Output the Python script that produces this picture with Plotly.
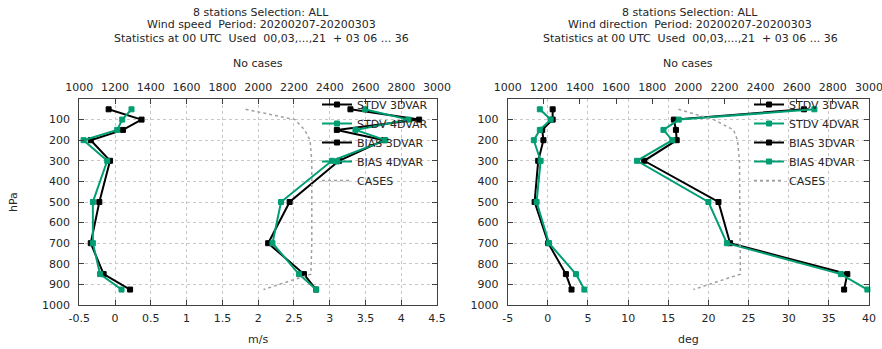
import plotly.graph_objects as go

# ---------------- data ----------------
levels = [50, 100, 150, 200, 300, 500, 700, 850, 925]

stdv3_spd = [3.29, 4.25, 3.10, 3.76, 3.13, 2.44, 2.14, 2.64, 2.81]
stdv4_spd = [3.49, 4.10, 3.36, 3.78, 3.03, 2.32, 2.20, 2.57, 2.81]
bias3_spd = [-0.09, 0.37, 0.11, -0.34, -0.07, -0.22, -0.34, -0.16, 0.21]
bias4_spd = [0.23, 0.10, 0.03, -0.44, -0.11, -0.31, -0.31, -0.21, 0.09]
cases_spd = [1930, 2205, 2260, 2290, 2300, 2300, 2300, 2295, 2030]

stdv3_dir = [31.9, 15.7, 15.95, 16.05, 12.0, 21.25, 22.7, 37.3, 36.9]
stdv4_dir = [33.2, 16.3, 14.4, 15.5, 11.1, 20.0, 22.3, 36.5, 39.8]
bias3_dir = [0.6, 0.6, -0.7, -0.55, -1.2, -1.65, 0.05, 2.25, 2.95]
bias4_dir = [-1.0, 0.35, -1.0, -1.75, -0.9, -1.4, 0.15, 3.5, 4.55]
cases_dir = [1945, 2140, 2250, 2272, 2283, 2285, 2285, 2288, 2028]

speed_ticks = [-0.5, 0, 0.5, 1, 1.5, 2, 2.5, 3, 3.5, 4, 4.5]
speed_ticktext = ["-0.5", "0", "0.5", "1", "1.5", "2", "2.5", "3", "3.5", "4", "4.5"]
dir_ticks = [-5, 0, 5, 10, 15, 20, 25, 30, 35, 40]
dir_ticktext = ["-5", "0", "5", "10", "15", "20", "25", "30", "35", "40"]
case_ticks = [1000, 1200, 1400, 1600, 1800, 2000, 2200, 2400, 2600, 2800, 3000]
level_ticks = [100, 200, 300, 400, 500, 600, 700, 800, 900, 1000]

title_lines_spd = ["8 stations Selection: ALL",
                   "Wind speed\u00a0 Period: 20200207-20200303",
                   "Statistics at 00 UTC\u00a0 Used\u00a0 00,03,...,21\u00a0 + 03 06 ... 36"]
title_lines_dir = ["8 stations Selection: ALL",
                   "Wind direction\u00a0 Period: 20200207-20200303",
                   "Statistics at 00 UTC\u00a0 Used\u00a0 00,03,...,21\u00a0 + 03 06 ... 36"]

# ---------------- style ----------------
W, H = 882, 349
FONT = "DejaVu Sans"
TXT = "#262626"
BLACK = "#000000"
GREEN = "#009e73"
GRAY = "#a0a0a0"
FRAME = "#404040"
GRID = "#c8c8c8"

def px(x):
    return x / W

def py(y):
    return 1 - y / H

L1, R1 = 79.3, 437.0
L2, R2 = 507.7, 869.0
TOP, BOT = 99.0, 305.0

fig = go.Figure()

def add_series(xv, name, color, xa, ya, legend):
    fig.add_trace(go.Scatter(
        x=xv, y=levels, name=name, mode="lines+markers",
        line=dict(color=color, width=2),
        marker=dict(symbol="square", size=5, color=color,
                    line=dict(color=color, width=1)),
        xaxis=xa, yaxis=ya, legend=legend, cliponaxis=False))

for (s3, s4, b3, b4, cs, xa, xt, ya, lg) in [
        (stdv3_spd, stdv4_spd, bias3_spd, bias4_spd, cases_spd, "x", "x3", "y", "legend"),
        (stdv3_dir, stdv4_dir, bias3_dir, bias4_dir, cases_dir, "x2", "x4", "y2", "legend2")]:
    add_series(s3, "STDV 3DVAR", BLACK, xa, ya, lg)
    add_series(s4, "STDV 4DVAR", GREEN, xa, ya, lg)
    add_series(b3, "BIAS 3DVAR", BLACK, xa, ya, lg)
    add_series(b4, "BIAS 4DVAR", GREEN, xa, ya, lg)
    fig.add_trace(go.Scatter(
        x=cs, y=levels, name="CASES", mode="lines",
        line=dict(color=GRAY, width=1.5, dash="3px,3px"),
        xaxis=xt, yaxis=ya, legend=lg))

common_x = dict(showline=True, linecolor=FRAME, linewidth=1, ticks="inside",
                ticklen=5, tickcolor=FRAME, zeroline=False, automargin=False,
                ticklabeloverflow="allow",
                tickfont=dict(family=FONT, size=11, color=TXT))
common_y = dict(showline=True, linecolor=FRAME, linewidth=1, ticks="inside",
                ticklen=5, tickcolor=FRAME, mirror="ticks", zeroline=False,
                range=[1000, 0], tickvals=level_ticks, automargin=False,
                showgrid=True, gridcolor=GRID, griddash="dot", gridwidth=1,
                ticklabelstandoff=6, ticklabeloverflow="allow",
                tickfont=dict(family=FONT, size=11, color=TXT))

fig.update_layout(
    width=W, height=H,
    margin=dict(l=0, r=0, t=0, b=0, pad=0, autoexpand=False),
    paper_bgcolor="white", plot_bgcolor="white",
    font=dict(family=FONT, size=11, color=TXT),
    hovermode=False,
    xaxis=dict(domain=[px(L1), px(R1)], anchor="y", range=[-0.5, 4.5],
               tickvals=speed_ticks, ticktext=speed_ticktext,
               showgrid=True, gridcolor=GRID, griddash="dot", gridwidth=1,
               ticklabelstandoff=3, **common_x),
    xaxis3=dict(domain=[px(L1), px(R1)], anchor="y", overlaying="x", side="top",
                range=[1000, 3000], tickvals=case_ticks, showgrid=False,
                ticklabelstandoff=3, **common_x),
    yaxis=dict(domain=[py(BOT), py(TOP)], anchor="x", **common_y),
    xaxis2=dict(domain=[px(L2), px(R2)], anchor="y2", range=[-5, 40],
                tickvals=dir_ticks, ticktext=dir_ticktext,
                showgrid=True, gridcolor=GRID, griddash="dot", gridwidth=1,
                ticklabelstandoff=3, **common_x),
    xaxis4=dict(domain=[px(L2), px(R2)], anchor="y2", overlaying="x2", side="top",
                range=[1000, 3000], tickvals=case_ticks, showgrid=False,
                ticklabelstandoff=3, **common_x),
    yaxis2=dict(domain=[py(BOT), py(TOP)], anchor="x2", **common_y),
    legend=dict(x=px(R1 - 4), y=py(TOP - 9), xanchor="right", yanchor="top",
                bgcolor="rgba(0,0,0,0)", font=dict(family=FONT, size=11, color=TXT),
                itemwidth=30, tracegroupgap=0),
    legend2=dict(x=px(R2 - 4), y=py(TOP - 9), xanchor="right", yanchor="top",
                 bgcolor="rgba(0,0,0,0)", font=dict(family=FONT, size=11, color=TXT),
                 itemwidth=30, tracegroupgap=0),
    showlegend=True,
)

ann = []
for lines, cx in [(title_lines_spd, 261), (title_lines_dir, 690)]:
    for i, t in enumerate(lines):
        ann.append(dict(text=t, x=px(cx), y=py(12 + 13 * i), xref="paper", yref="paper",
                        xanchor="center", yanchor="middle", showarrow=False,
                        font=dict(family=FONT, size=11, color=TXT)))
for cx in [(L1 + R1) / 2, (L2 + R2) / 2]:
    ann.append(dict(text="No cases", x=px(cx), y=py(64), xref="paper", yref="paper",
                    xanchor="center", yanchor="middle", showarrow=False,
                    font=dict(family=FONT, size=11, color=TXT)))
ann.append(dict(text="m/s", x=px((L1 + R1) / 2), y=py(339), xref="paper", yref="paper",
                xanchor="center", yanchor="middle", showarrow=False,
                font=dict(family=FONT, size=11, color=TXT)))
ann.append(dict(text="deg", x=px((L2 + R2) / 2), y=py(339), xref="paper", yref="paper",
                xanchor="center", yanchor="middle", showarrow=False,
                font=dict(family=FONT, size=11, color=TXT)))
ann.append(dict(text="hPa", x=px(14), y=py(202), xref="paper", yref="paper",
                xanchor="center", yanchor="middle", showarrow=False, textangle=-90,
                font=dict(family=FONT, size=11, color=TXT)))
fig.update_layout(annotations=ann)

fig.write_html("out.html",
               config={"displayModeBar": False, "staticPlot": True},
               post_script="document.body.style.margin='0';document.body.style.padding='0';")
